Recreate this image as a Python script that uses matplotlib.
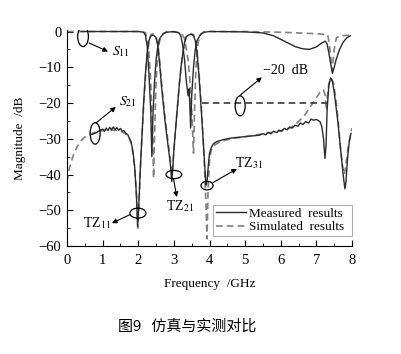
import matplotlib
matplotlib.use("Agg")
import matplotlib.pyplot as plt
from matplotlib.patches import Ellipse
import numpy as np

plt.rcParams['font.family'] = ['Liberation Serif', 'DejaVu Serif']
plt.rcParams['mathtext.fontset'] = 'stix'

# ---------------- data ----------------
meas_s21_f = [0.70, 0.80, 0.90, 1.00, 1.05, 1.10, 1.15, 1.20, 1.25, 1.30, 1.35, 1.40, 1.45, 1.50,
              1.55, 1.60, 1.65, 1.70, 1.75, 1.80, 1.85, 1.90, 1.95, 1.98, 2.01, 2.05, 2.10, 2.15,
              2.20, 2.25, 2.30, 2.35, 2.40, 2.45, 2.50, 2.55, 2.60, 2.65, 2.70, 2.75, 2.80, 2.85,
              2.90, 2.94, 2.97, 3.00, 3.05, 3.10, 3.15, 3.20, 3.25, 3.30, 3.35, 3.40, 3.50, 3.55,
              3.60, 3.65, 3.70, 3.75, 3.80, 3.85, 3.90, 3.93, 3.97, 4.00, 4.05, 4.10, 4.20, 4.40,
              4.60, 4.80, 5.00, 5.20, 5.40, 5.50, 5.58, 5.65, 5.72, 5.80, 5.88, 5.95, 6.02, 6.10,
              6.18, 6.25, 6.32, 6.40, 6.48, 6.55, 6.62, 6.70, 6.78, 6.85, 6.92, 7.00, 7.10, 7.15,
              7.20, 7.24, 7.27, 7.30, 7.35, 7.40, 7.45, 7.50, 7.55, 7.60, 7.65, 7.70, 7.75, 7.80,
              7.83, 7.87, 7.92, 7.97]
meas_s21_db = [-28.8, -28.4, -27.8, -27.3, -27.9, -27.0, -27.7, -26.8, -27.5, -26.7, -27.4, -26.9, -27.6, -27.1,
               -27.9, -27.7, -28.5, -28.8, -29.8, -31.0, -33.5, -38.0, -46.0, -54.5, -50.0, -40.0, -30.0, -20.0,
               -12.0, -6.0, -2.6, -1.3, -1.0, -1.2, -1.8, -4.0, -9.0, -15.0, -20.0, -25.0, -29.0, -33.0,
               -37.0, -42.0, -38.0, -33.0, -27.0, -21.0, -15.0, -10.0, -6.0, -3.0, -1.5, -1.0, -0.8, -1.2,
               -2.5, -6.0, -12.0, -19.0, -27.0, -35.0, -43.0, -42.0, -37.0, -34.0, -32.5, -31.5, -30.8, -30.2,
               -29.8, -29.6, -29.4, -29.2, -29.0, -28.6, -28.9, -28.2, -28.6, -27.9, -28.3, -27.6, -27.9, -27.1,
               -27.5, -26.7, -27.0, -26.2, -26.5, -25.6, -26.0, -25.2, -25.6, -24.5, -24.8, -24.6, -25.2, -26.5,
               -30.0, -35.5, -32.0, -22.0, -15.0, -13.0, -14.0, -17.0, -21.0, -25.0, -30.0, -35.0, -40.0, -44.0,
               -42.0, -36.0, -31.0, -28.5]

meas_s11_f = [0.40, 1.00, 2.00, 2.15, 2.20, 2.25, 2.30, 2.35, 2.38, 2.41, 2.45, 2.50, 2.55, 2.60,
              2.70, 2.80, 3.00, 3.15, 3.20, 3.25, 3.30, 3.35, 3.40, 3.43, 3.47, 3.50, 3.55, 3.60,
              3.65, 3.75, 3.85, 4.00, 5.00, 5.50, 5.80, 6.00, 6.20, 6.40, 6.60, 6.80, 7.00, 7.15,
              7.25, 7.30, 7.35, 7.40, 7.45, 7.50, 7.55, 7.65, 7.75, 7.85, 7.95]
meas_s11_db = [0.0, 0.0, 0.0, -0.2, -1.0, -4.0, -12.0, -22.0, -35.0, -24.0, -15.0, -8.0, -4.0, -2.0,
               -0.6, -0.2, 0.0, -0.4, -1.5, -4.0, -8.0, -14.0, -18.0, -16.0, -27.0, -18.0, -10.0, -5.0,
               -2.5, -0.8, -0.2, 0.0, -0.1, -0.4, -1.2, -2.2, -3.2, -4.2, -4.8, -5.0, -4.3, -3.2,
               -2.7, -3.5, -6.0, -9.0, -11.7, -10.0, -8.0, -5.0, -3.0, -1.8, -1.2]

sim_s21_f = [0.00, 0.05, 0.10, 0.20, 0.30, 0.40, 0.50, 0.70, 0.90, 1.20, 1.50, 1.70, 1.80, 1.85,
             1.90, 1.95, 1.99, 2.02, 2.06, 2.10, 2.15, 2.20, 2.25, 2.30, 2.35, 2.40, 2.45, 2.50,
             2.55, 2.60, 2.65, 2.70, 2.75, 2.80, 2.85, 2.90, 2.95, 2.98, 3.02, 3.05, 3.10, 3.15,
             3.20, 3.25, 3.30, 3.35, 3.40, 3.50, 3.55, 3.60, 3.65, 3.70, 3.75, 3.80, 3.85, 3.90,
             3.93, 3.96, 4.00, 4.05, 4.10, 4.30, 4.60, 5.00, 5.50, 6.00, 6.30, 6.50, 6.70, 6.90,
             7.00, 7.10, 7.20, 7.25, 7.28, 7.31, 7.35, 7.42, 7.48, 7.55, 7.62, 7.68, 7.74, 7.78,
             7.82, 7.88, 7.95, 8.00]
sim_s21_db = [-42.0, -39.0, -37.0, -34.0, -32.0, -30.5, -29.5, -28.5, -27.8, -27.5, -27.8, -29.0, -31.0, -34.0,
              -38.0, -46.0, -55.0, -48.0, -38.0, -30.0, -21.0, -13.0, -6.5, -2.8, -1.0, -0.6, -0.8, -1.5,
              -3.5, -8.0, -14.0, -19.0, -24.0, -28.0, -32.0, -36.0, -40.0, -36.0, -31.0, -27.0, -21.0, -15.0,
              -10.0, -6.0, -3.0, -1.3, -0.8, -0.6, -0.9, -2.2, -5.5, -11.0, -18.0, -26.0, -36.0, -48.0,
              -58.0, -44.0, -36.0, -33.0, -32.0, -30.8, -30.0, -29.4, -28.6, -27.8, -26.8, -25.2, -23.0, -20.0,
              -18.5, -17.0, -16.3, -18.0, -22.0, -18.0, -14.5, -13.0, -14.5, -19.0, -26.0, -33.0, -38.0, -40.0,
              -38.0, -33.0, -29.0, -27.0]

sim_s11_f = [0.00, 1.00, 2.00, 2.20, 2.25, 2.30, 2.35, 2.40, 2.43, 2.46, 2.50, 2.55, 2.60, 2.70,
             2.80, 3.20, 3.30, 3.40, 3.45, 3.50, 3.55, 3.58, 3.62, 3.68, 3.75, 3.85, 5.00, 6.00,
             7.00, 7.32, 7.38, 7.44, 7.50, 7.56, 7.65, 8.00]
sim_s11_db = [0.0, 0.0, 0.0, -0.3, -2.0, -6.0, -14.0, -28.0, -41.0, -28.0, -14.0, -6.0, -2.5, -0.6,
              0.0, -0.3, -2.0, -8.0, -14.0, -22.0, -34.0, -22.0, -10.0, -3.0, -0.8, 0.0, 0.0, -0.2,
              -0.6, -0.9, -5.0, -11.0, -5.0, -1.8, -1.2, -1.0]

ref_f = [3.80, 7.30]
ref_db = [-20.0, -20.0]

xticks = [0, 1, 2, 3, 4, 5, 6, 7, 8]
yticks = [0, -10, -20, -30, -40, -50, -60]

# ---------------- figure ----------------
fig = plt.figure(figsize=(4.02, 3.54), dpi=100)
ax = fig.add_axes([0.1667, 0.305, 0.709, 0.61])

solid_c = '#2b2b2b'
dash_c = '#808080'
ax.plot(meas_s11_f, meas_s11_db, color=solid_c, lw=1.0, label='Measured  results', zorder=3)
ax.plot(meas_s21_f, meas_s21_db, color=solid_c, lw=1.0, zorder=3)
ax.plot(sim_s11_f, sim_s11_db, color=dash_c, lw=1.2, ls=(0, (4, 2.5)), label='Simulated  results', zorder=2)
ax.plot(sim_s21_f, sim_s21_db, color=dash_c, lw=1.2, ls=(0, (4, 2.5)), zorder=2)
ax.plot(ref_f, ref_db, color='#3a3a3a', lw=1.2, ls=(0, (4, 2.5)), zorder=2)

ax.set_xlim(0, 8)
ax.set_ylim(-60, 0.4)
ax.set_xticks(xticks)
ax.set_yticks(yticks)
ax.set_xticks(np.arange(0, 8.01, 0.5), minor=True)
ax.set_yticks(np.arange(-60, 0.1, 5), minor=True)
ax.tick_params(which='major', direction='in', length=4, width=0.8, labelsize=10.5)
ax.tick_params(axis='x', which='major', pad=6)
ax.tick_params(axis='y', which='major', pad=4)
ax.tick_params(which='minor', direction='in', length=2, width=0.6)
ax.spines['top'].set_visible(False)
ax.spines['right'].set_visible(False)
ax.set_xlabel('Frequency  /GHz', fontsize=9.5, labelpad=8)
ax.set_ylabel('Magnitude  /dB', fontsize=9.5, labelpad=9)

leg = ax.legend(loc='lower left', bbox_to_anchor=(0.512, 0.047, 0.488, 0.151), mode='expand',
                fontsize=9.5, frameon=True, fancybox=False, handlelength=2.3,
                borderpad=0.2, labelspacing=0.1, handletextpad=0.2, borderaxespad=0)
leg.get_frame().set_edgecolor('#999999')
leg.get_frame().set_linewidth(0.8)

# annotations
def ell(x, y, w, h):
    ax.add_patch(Ellipse((x, y), w, h, fill=False, ec='k', lw=0.9, zorder=5))

def arrow(x0, y0, x1, y1):
    ax.annotate('', xy=(x1, y1), xytext=(x0, y0),
                arrowprops=dict(arrowstyle='-|>', lw=0.8, color='k', mutation_scale=7,
                                shrinkA=0, shrinkB=0), zorder=6)

ell(0.45, -1.4, 0.30, 5.6)
arrow(0.62, -3.2, 1.15, -5.6)
ax.text(1.27, -5.6, r'$S_{11}$', fontsize=10, va='center', ha='left')

ell(0.79, -28.5, 0.28, 6.0)
arrow(0.81, -25.6, 1.37, -21.1)
ax.text(1.45, -19.7, r'$S_{21}$', fontsize=10, va='center', ha='left')

ell(1.99, -50.8, 0.45, 2.8)
arrow(1.77, -51.2, 1.26, -53.6)
ax.text(1.22, -53.6, r'TZ$_{11}$', fontsize=10, va='center', ha='right')

ell(3.0, -40.0, 0.44, 2.3)
arrow(2.99, -41.2, 3.08, -46.3)
ax.text(3.17, -48.8, r'TZ$_{21}$', fontsize=10, va='center', ha='center')

ell(3.93, -43.1, 0.34, 2.4)
arrow(4.09, -42.3, 4.77, -38.4)
ax.text(4.72, -36.9, r'TZ$_{31}$', fontsize=10, va='center', ha='left')

ell(4.86, -20.8, 0.28, 5.6)
arrow(4.86, -17.8, 5.47, -12.8)
ax.text(5.5, -10.8, '\u221220  dB', fontsize=10, va='center', ha='left')

fig.text(0.466, 0.077, '图9   仿真与实测对比', fontsize=10.8, ha='center', va='center',
         family=['Noto Sans CJK SC', 'DejaVu Sans'])

fig.savefig('out.png', dpi=100)
